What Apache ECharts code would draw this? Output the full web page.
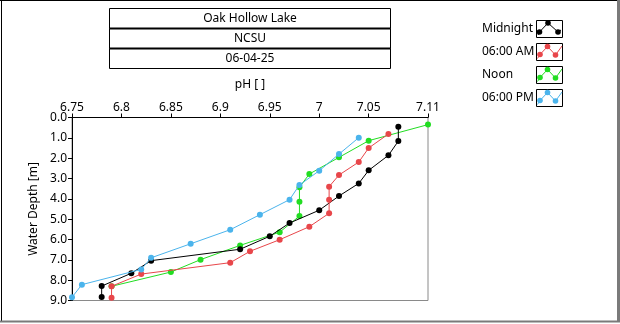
<!DOCTYPE html>
<html>
<head>
<meta charset="utf-8">
<script src="https://cdn.jsdelivr.net/npm/echarts@6/dist/echarts.min.js"></script>
<style>
  html, body { margin: 0; padding: 0; background: #fff; }
  #chart { width: 620px; height: 324px; }
</style>
</head>
<body>
<div id="chart"></div>
<script>
// Depth profiles of pH, Oak Hollow Lake
const titleLines = ['Oak Hollow Lake', 'NCSU', '06-04-25'];
const seriesNames = ['Midnight', '06:00 AM', 'Noon', '06:00 PM'];
const seriesColors = ['#000000', '#e8464a', '#22dd22', '#4bb4ec'];

const xTicks = [6.75, 6.8, 6.85, 6.9, 6.95, 7, 7.05, 7.11];

// pH readings and depths (m) per profile
const midnightPH    = [7.08, 7.08, 7.07, 7.05, 7.04, 7.02, 7.00, 6.97, 6.95, 6.92, 6.83, 6.81, 6.78, 6.78];
const midnightDepth = [0.45, 1.16, 1.86, 2.60, 3.24, 3.86, 4.56, 5.19, 5.84, 6.48, 7.04, 7.66, 8.29, 8.83];

const morningPH     = [7.07, 7.05, 7.04, 7.02, 7.01, 7.01, 7.01, 6.99, 6.96, 6.93, 6.91, 6.82, 6.79, 6.79];
const morningDepth  = [0.81, 1.50, 2.19, 2.83, 3.40, 4.04, 4.71, 5.37, 6.01, 6.58, 7.14, 7.70, 8.30, 8.86];

const noonPH        = [7.11, 7.05, 7.02, 6.99, 6.98, 6.98, 6.98, 6.96, 6.92, 6.88, 6.85, 6.79];
const noonDepth     = [0.35, 1.14, 1.96, 2.78, 3.43, 4.14, 4.85, 5.64, 6.29, 6.99, 7.60, 8.30];

const eveningPH     = [7.04, 7.02, 7.00, 6.98, 6.97, 6.94, 6.91, 6.87, 6.83, 6.82, 6.76, 6.75];
const eveningDepth  = [0.99, 1.80, 2.62, 3.32, 4.04, 4.78, 5.52, 6.21, 6.90, 7.47, 8.22, 8.84];

const profiles = [
  [midnightPH, midnightDepth],
  [morningPH, morningDepth],
  [noonPH, noonDepth],
  [eveningPH, eveningDepth]
];
// drawing order: noon underneath the others
const zOrder = [3, 4, 2, 5];

const FONT = 'Noto Sans';
const chart = echarts.init(document.getElementById('chart'), null, { renderer: 'canvas' });

const series = profiles.map((p, i) => ({
  name: seriesNames[i],
  type: 'line',
  data: p[0].map((ph, k) => [ph, p[1][k]]),
  symbol: 'circle',
  symbolSize: 6,
  showSymbol: true,
  z: zOrder[i],
  lineStyle: { color: seriesColors[i], width: 1 },
  itemStyle: { color: seriesColors[i] },
  emphasis: { disabled: true },
  animation: false
}));

// title boxes
const graphics = [];
const boxTops = [8, 28, 48];
titleLines.forEach((t, i) => {
  graphics.push({
    type: 'rect', shape: { x: 109.5, y: boxTops[i] + 0.5, width: 281, height: 20 },
    style: { fill: '#fff', stroke: '#000', lineWidth: 1 }
  });
  graphics.push({
    type: 'text', x: 250, y: boxTops[i] + 11,
    style: { text: t, font: '12px "' + FONT + '"', fill: '#000', align: 'center', verticalAlign: 'middle' }
  });
});
// separators drawn thicker
[28.5, 48.5].forEach(y => graphics.push({
  type: 'line', shape: { x1: 109.5, y1: y, x2: 390.5, y2: y }, style: { stroke: '#000', lineWidth: 2 }
}));

// legend
seriesNames.forEach((n, i) => {
  const y0 = 20 + i * 23;
  graphics.push({
    type: 'text', x: 482, y: y0 + 8.5,
    style: { text: n, font: '12px "' + FONT + '"', fill: '#000', align: 'left', verticalAlign: 'middle' }
  });
  graphics.push({
    type: 'rect', shape: { x: 536.5, y: y0 + 0.5, width: 26, height: 17 },
    style: { fill: '#fff', stroke: '#000', lineWidth: 1 }
  });
  let pts;
  if (i === 0) {
    pts = [[538, y0 + 15], [539.5, y0 + 12], [548, y0 + 3], [558, y0 + 12], [561, y0 + 10]];
  } else {
    pts = [[537.5, y0 + 15.5], [540, y0 + 11.5], [547.5, y0 + 3.5], [555.5, y0 + 12], [562, y0 + 3]];
  }
  const dots = [pts[1], pts[2], pts[3]];
  graphics.push({
    type: 'polyline', shape: { points: pts },
    style: { stroke: seriesColors[i], lineWidth: 1, fill: null }
  });
  dots.forEach(d => graphics.push({
    type: 'circle', shape: { cx: d[0], cy: d[1], r: 2.8 }, style: { fill: seriesColors[i] }
  }));
});

// outer frame
graphics.push({ type: 'line', shape: { x1: 0, y1: 0.5, x2: 618, y2: 0.5 }, style: { stroke: '#000', lineWidth: 1 } });
graphics.push({ type: 'line', shape: { x1: 1.5, y1: 0, x2: 1.5, y2: 321 }, style: { stroke: '#000', lineWidth: 1 } });
graphics.push({ type: 'line', shape: { x1: 618.5, y1: 0, x2: 618.5, y2: 322 }, style: { stroke: '#7a7a7a', lineWidth: 3 } });
graphics.push({ type: 'line', shape: { x1: 0, y1: 321.5, x2: 620, y2: 321.5 }, style: { stroke: '#7a7a7a', lineWidth: 2 } });

chart.setOption({
  animation: false,
  backgroundColor: '#ffffff',
  textStyle: { fontFamily: FONT },
  grid: {
    left: 72, top: 117.5, right: 192, bottom: 23.5,
    show: true, borderColor: '#8a8a8a', borderWidth: 1, backgroundColor: 'transparent'
  },
  xAxis: {
    type: 'value',
    position: 'top',
    min: 6.75, max: 7.11,
    name: 'pH [ ]',
    nameLocation: 'middle',
    nameGap: 27,
    nameTextStyle: { fontSize: 12, color: '#000', fontFamily: FONT },
    axisLine: { show: true, lineStyle: { color: '#000', width: 1 } },
    axisTick: { show: true, inside: false, length: 4, customValues: xTicks, lineStyle: { color: '#000' } },
    axisLabel: { customValues: xTicks, color: '#000', fontSize: 12, margin: 4, fontFamily: FONT, showMaxLabel: true, showMinLabel: true },
    splitLine: { show: false }
  },
  yAxis: {
    type: 'value',
    inverse: true,
    min: 0, max: 9, interval: 1,
    name: 'Water Depth [m]',
    nameLocation: 'middle',
    nameGap: 29,
    nameRotate: 90,
    nameTextStyle: { fontSize: 12, color: '#000', fontFamily: FONT },
    axisLine: { show: true, lineStyle: { color: '#000', width: 1 } },
    axisTick: { show: true, length: 4, lineStyle: { color: '#000' } },
    axisLabel: { color: '#000', fontSize: 12, margin: 5, fontFamily: FONT, formatter: v => v.toFixed(1) },
    splitLine: { show: false }
  },
  series: series,
  graphic: graphics
});
</script>
</body>
</html>
